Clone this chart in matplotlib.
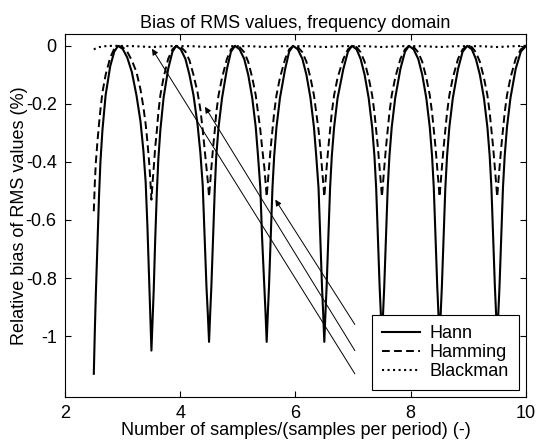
import numpy as np
import matplotlib
matplotlib.use('Agg')
import matplotlib.pyplot as plt
from matplotlib.ticker import FormatStrFormatter

plt.rcParams['font.family'] = ['Liberation Sans', 'DejaVu Sans']
plt.rcParams['axes.unicode_minus'] = False

# x values (samples / samples per period), one row per period
x_vals = [
    2.50, 2.518, 2.536, 2.563, 2.59, 2.615, 2.65, 2.705, 2.785, 2.855, 2.92,
    3.00, 3.08, 3.16, 3.24, 3.31, 3.36, 3.40, 3.43, 3.46, 3.48,
    3.50, 3.52, 3.54, 3.565, 3.595, 3.62, 3.655, 3.71, 3.79, 3.865, 3.93,
    4.01, 4.09, 4.16, 4.23, 4.30, 4.35, 4.39, 4.42, 4.455, 4.48,
    4.50, 4.52, 4.54, 4.57, 4.60, 4.625, 4.665, 4.725, 4.81, 4.88, 4.95,
    5.03, 5.11, 5.18, 5.25, 5.31, 5.35, 5.39, 5.42, 5.46, 5.48,
    5.50, 5.52, 5.54, 5.57, 5.60, 5.63, 5.67, 5.73, 5.82, 5.89, 5.96,
    6.04, 6.12, 6.19, 6.26, 6.32, 6.36, 6.40, 6.43, 6.46, 6.48,
    6.50, 6.52, 6.54, 6.57, 6.60, 6.63, 6.67, 6.73, 6.83, 6.91, 6.98,
    7.06, 7.13, 7.20, 7.27, 7.33, 7.37, 7.40, 7.43, 7.46, 7.48,
    7.50, 7.52, 7.54, 7.57, 7.60, 7.63, 7.67, 7.73, 7.82, 7.90, 7.97,
    8.05, 8.13, 8.20, 8.27, 8.33, 8.37, 8.40, 8.43, 8.46, 8.48,
    8.50, 8.52, 8.54, 8.57, 8.60, 8.63, 8.67, 8.73, 8.82, 8.90, 8.98,
    9.06, 9.13, 9.20, 9.27, 9.33, 9.37, 9.40, 9.43, 9.46, 9.48,
    9.50, 9.52, 9.54, 9.57, 9.60, 9.63, 9.67, 9.73, 9.82, 9.91, 10.0,
]

# relative bias (%) - Hann window
hann = [
    -1.13, -0.98, -0.85, -0.68, -0.52, -0.40, -0.29, -0.17, -0.07, -0.02, 0.0,
    -0.01, -0.04, -0.09, -0.17, -0.26, -0.36, -0.47, -0.62, -0.80, -0.92,
    -1.05, -0.94, -0.84, -0.67, -0.50, -0.39, -0.29, -0.18, -0.08, -0.02, 0.0,
    -0.012, -0.045, -0.10, -0.17, -0.27, -0.37, -0.48, -0.64, -0.83, -0.93,
    -1.02, -0.92, -0.83, -0.66, -0.49, -0.38, -0.28, -0.18, -0.08, -0.02, 0.0,
    -0.012, -0.045, -0.10, -0.18, -0.28, -0.38, -0.49, -0.66, -0.83, -0.92,
    -1.02, -0.92, -0.83, -0.66, -0.49, -0.38, -0.28, -0.18, -0.08, -0.02, 0.0,
    -0.012, -0.045, -0.10, -0.18, -0.28, -0.38, -0.49, -0.66, -0.83, -0.92,
    -1.02, -0.92, -0.83, -0.66, -0.49, -0.38, -0.28, -0.18, -0.08, -0.02, 0.0,
    -0.012, -0.045, -0.10, -0.18, -0.28, -0.38, -0.49, -0.66, -0.83, -0.92,
    -1.01, -0.92, -0.83, -0.66, -0.49, -0.38, -0.28, -0.18, -0.08, -0.02, 0.0,
    -0.012, -0.045, -0.10, -0.18, -0.28, -0.38, -0.49, -0.66, -0.83, -0.92,
    -1.01, -0.92, -0.83, -0.66, -0.49, -0.38, -0.28, -0.18, -0.08, -0.02, 0.0,
    -0.012, -0.045, -0.10, -0.18, -0.28, -0.38, -0.49, -0.66, -0.83, -0.92,
    -1.01, -0.92, -0.83, -0.66, -0.49, -0.38, -0.28, -0.18, -0.08, -0.02, 0.0,
]

# relative bias (%) - Hamming window
hamming = [
    -0.57, -0.47, -0.40, -0.33, -0.27, -0.22, -0.16, -0.10, -0.04, -0.01, 0.0,
    -0.004, -0.02, -0.05, -0.09, -0.15, -0.21, -0.27, -0.33, -0.40, -0.46,
    -0.53, -0.47, -0.42, -0.35, -0.29, -0.23, -0.17, -0.11, -0.045, -0.012, 0.0,
    -0.004, -0.02, -0.05, -0.10, -0.16, -0.22, -0.29, -0.35, -0.42, -0.47,
    -0.52, -0.47, -0.42, -0.35, -0.29, -0.23, -0.17, -0.11, -0.045, -0.012, 0.0,
    -0.004, -0.022, -0.055, -0.11, -0.17, -0.23, -0.29, -0.35, -0.42, -0.47,
    -0.52, -0.47, -0.42, -0.35, -0.29, -0.23, -0.17, -0.11, -0.045, -0.012, 0.0,
    -0.004, -0.022, -0.055, -0.11, -0.17, -0.23, -0.29, -0.35, -0.42, -0.47,
    -0.52, -0.47, -0.42, -0.35, -0.29, -0.23, -0.17, -0.11, -0.045, -0.012, 0.0,
    -0.004, -0.022, -0.055, -0.11, -0.17, -0.23, -0.29, -0.35, -0.42, -0.47,
    -0.52, -0.47, -0.42, -0.35, -0.29, -0.23, -0.17, -0.11, -0.045, -0.012, 0.0,
    -0.004, -0.022, -0.055, -0.11, -0.17, -0.23, -0.29, -0.35, -0.42, -0.47,
    -0.52, -0.47, -0.42, -0.35, -0.29, -0.23, -0.17, -0.11, -0.045, -0.012, 0.0,
    -0.004, -0.022, -0.055, -0.11, -0.17, -0.23, -0.29, -0.35, -0.42, -0.47,
    -0.52, -0.47, -0.42, -0.35, -0.29, -0.23, -0.17, -0.11, -0.045, -0.012, 0.0,
]

# Blackman window stays almost at zero
blackman_x = [2.5, 2.55, 2.6, 2.7, 2.8, 2.92, 3.2, 3.5, 3.8, 4.2, 4.5, 4.8, 5.2, 5.5, 5.8,
              6.2, 6.5, 6.8, 7.2, 7.5, 7.8, 8.2, 8.5, 8.8, 9.2, 9.5, 9.8, 10.0]
blackman = [-0.012, -0.007, -0.004, -0.001, 0.0, 0.0, -0.001, -0.004, -0.001, -0.001, -0.004, -0.001,
            -0.001, -0.004, -0.001, -0.001, -0.004, -0.001, -0.001, -0.004, -0.001, -0.001, -0.004,
            -0.001, -0.001, -0.004, -0.001, 0.0]

# arrows: (tail, head)
arrow_tails = [(7.03, -0.96), (7.03, -1.05), (7.03, -1.13)]
arrow_heads = [(5.65, -0.53), (4.43, -0.21), (3.51, -0.01)]

fs = 13

fig = plt.figure(figsize=(5.38, 4.43), dpi=100)
ax = fig.add_axes([0.1208, 0.1038, 0.8569, 0.8195])

ax.plot(x_vals, hann, 'k-', lw=1.5, label='Hann')
ax.plot(x_vals, hamming, 'k--', lw=1.4, dashes=(4, 2.2), label='Hamming')
ax.plot(blackman_x, blackman, 'k:', lw=1.5, label='Blackman')

for t, h in zip(arrow_tails, arrow_heads):
    ax.annotate('', xy=h, xytext=t,
                arrowprops=dict(arrowstyle='-|>', color='k', lw=0.7,
                                mutation_scale=9, shrinkA=0, shrinkB=0))

ax.set_xlim(2, 10)
ax.set_ylim(-1.21, 0.041)
ax.set_xticks([2, 4, 6, 8, 10])
ax.set_yticks([0, -0.2, -0.4, -0.6, -0.8, -1])
ax.yaxis.set_major_formatter(FormatStrFormatter('%g'))
ax.tick_params(direction='in', top=True, right=True, labelsize=fs, length=4, pad=6)

ax.set_title('Bias of RMS values, frequency domain', fontsize=fs, pad=4)
ax.set_xlabel('Number of samples/(samples per period) (-)', fontsize=fs, labelpad=0)
ax.set_ylabel('Relative bias of RMS values (%)', fontsize=fs, labelpad=-2)

leg = ax.legend(loc='lower right', fontsize=fs, fancybox=False, framealpha=1,
                edgecolor='k', handlelength=2.1, borderpad=0.55, labelspacing=0.1,
                handletextpad=0.55, borderaxespad=0.4)
leg.get_frame().set_linewidth(0.8)

fig.savefig('out.png', dpi=100)
